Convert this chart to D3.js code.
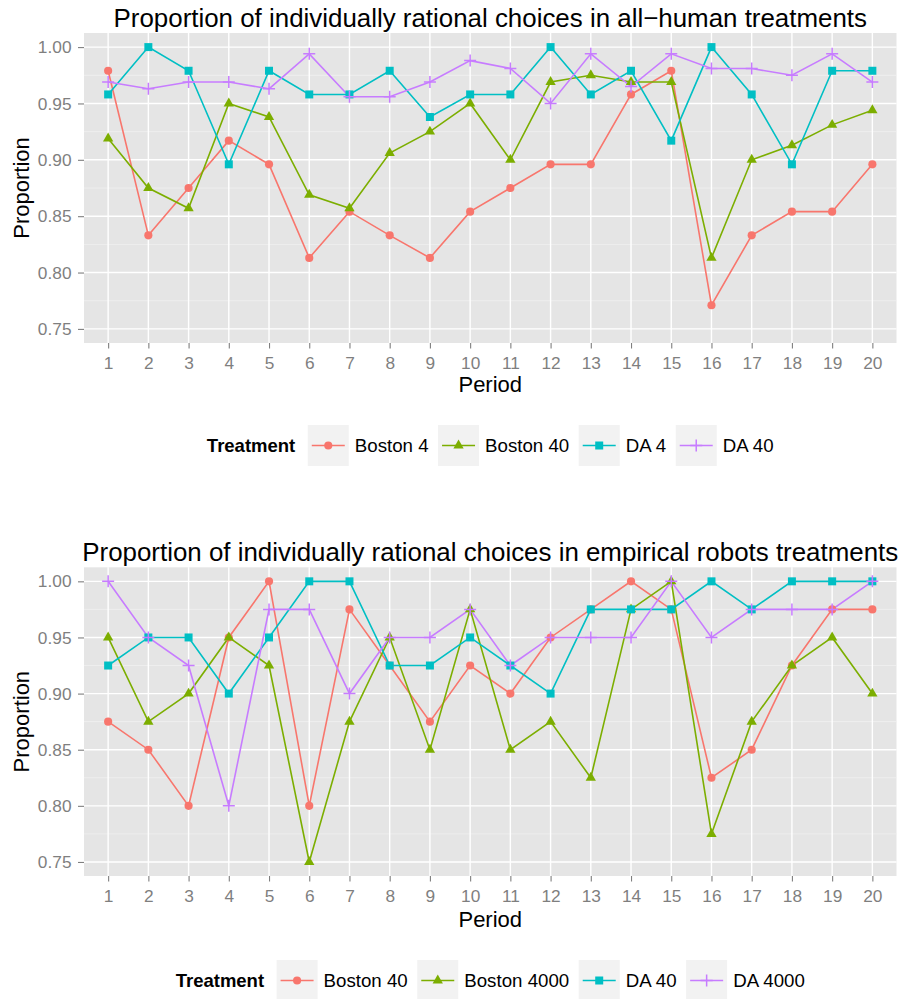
<!DOCTYPE html>
<html>
<head>
<meta charset="utf-8">
<script src="https://cdn.jsdelivr.net/npm/d3@7/dist/d3.min.js"></script>
<style>
body { margin: 0; background: #fff; }
text { font-family: "Liberation Sans", Arial, Helvetica, sans-serif; }
</style>
</head>
<body>
<svg id="chart" width="899" height="999"></svg>
<script>
// data
var periods = [1, 2, 3, 4, 5, 6, 7, 8, 9, 10, 11, 12, 13, 14, 15, 16, 17, 18, 19, 20];
var yTicks = [0.75, 0.80, 0.85, 0.90, 0.95, 1.00];
var yMinor = [0.775, 0.825, 0.875, 0.925, 0.975];

var humanTitle = "Proportion of individually rational choices in all\u2212human treatments";
var humanLabels = ["Boston 4", "Boston 40", "DA 4", "DA 40"];
var humanBoston4 = [0.979, 0.833, 0.875, 0.917, 0.896, 0.813, 0.854, 0.833, 0.813, 0.854,
                    0.875, 0.896, 0.896, 0.958, 0.979, 0.771, 0.833, 0.854, 0.854, 0.896];
var humanBoston40 = [0.919, 0.875, 0.857, 0.950, 0.938, 0.869, 0.857, 0.906, 0.925, 0.950,
                     0.900, 0.969, 0.975, 0.969, 0.969, 0.813, 0.900, 0.913, 0.931, 0.944];
var humanDA4 = [0.958, 1.000, 0.979, 0.896, 0.979, 0.958, 0.958, 0.979, 0.938, 0.958,
                0.958, 1.000, 0.958, 0.979, 0.917, 1.000, 0.958, 0.896, 0.979, 0.979];
var humanDA40 = [0.969, 0.963, 0.969, 0.969, 0.963, 0.994, 0.956, 0.956, 0.969, 0.988,
                 0.981, 0.950, 0.994, 0.965, 0.994, 0.981, 0.981, 0.975, 0.994, 0.969];

var robotTitle = "Proportion of individually rational choices in empirical robots treatments";
var robotLabels = ["Boston 40", "Boston 4000", "DA 40", "DA 4000"];
var robotBoston40 = [0.875, 0.850, 0.800, 0.950, 1.000, 0.800, 0.975, 0.925, 0.875, 0.925,
                     0.900, 0.950, 0.975, 1.000, 0.975, 0.825, 0.850, 0.925, 0.975, 0.975];
var robotBoston4000 = [0.950, 0.875, 0.900, 0.950, 0.925, 0.750, 0.875, 0.950, 0.850, 0.975,
                       0.850, 0.875, 0.825, 0.975, 1.000, 0.775, 0.875, 0.925, 0.950, 0.900];
var robotDA40 = [0.925, 0.950, 0.950, 0.900, 0.950, 1.000, 1.000, 0.925, 0.925, 0.950,
                 0.925, 0.900, 0.975, 0.975, 0.975, 1.000, 0.975, 1.000, 1.000, 1.000];
var robotDA4000 = [1.000, 0.950, 0.925, 0.800, 0.975, 0.975, 0.900, 0.950, 0.950, 0.975,
                   0.925, 0.950, 0.950, 0.950, 1.000, 0.950, 0.975, 0.975, 0.975, 1.000];

var colors = ["#F8766D", "#7CAE00", "#00BFC4", "#C77CFF"];
var shapes = ["circle", "triangle", "square", "plus"];

var panelLeft = 84;
var panelRight = 896.5;

var svg = d3.select("#chart");

function markerPath(shape)
{
    if (shape == "circle") return d3.symbol().type(d3.symbolCircle).size(52)();
    if (shape == "triangle") return d3.symbol().type(d3.symbolTriangle).size(46)();
    if (shape == "square") return d3.symbol().type(d3.symbolSquare).size(64)();
    return "M-6,0H6M0,-6V6";
}

function drawMarker(g, shape, color)
{
    var p = g.append("path").attr("d", markerPath(shape));
    if (shape == "plus") {
        p.attr("fill", "none").attr("stroke", color).attr("stroke-width", 1.5);
    } else {
        p.attr("fill", color);
    }
    return p;
}

function drawPlot(cfg)
{
    var xScale = d3.scalePoint().domain(periods).range([panelLeft, panelRight]).padding(0.6);
    var yScale = d3.scaleLinear().domain([0.7375, 1.0125]).range([cfg.bottom, cfg.top]);

    var g = svg.append("g");

    // panel background
    g.append("rect")
        .attr("x", panelLeft).attr("y", cfg.top)
        .attr("width", panelRight - panelLeft).attr("height", cfg.bottom - cfg.top)
        .attr("fill", "#E5E5E5");

    g.selectAll("line.minor").data(yMinor).enter().append("line")
        .attr("class", "minor")
        .attr("x1", panelLeft).attr("x2", panelRight)
        .attr("y1", (d) => yScale(d)).attr("y2", (d) => yScale(d))
        .attr("stroke", "#F2F2F2").attr("stroke-width", 0.7);

    g.selectAll("line.hmajor").data(yTicks).enter().append("line")
        .attr("class", "hmajor")
        .attr("x1", panelLeft).attr("x2", panelRight)
        .attr("y1", (d) => yScale(d)).attr("y2", (d) => yScale(d))
        .attr("stroke", "#FFFFFF").attr("stroke-width", 1.4);

    g.selectAll("line.vmajor").data(periods).enter().append("line")
        .attr("class", "vmajor")
        .attr("x1", (d) => xScale(d)).attr("x2", (d) => xScale(d))
        .attr("y1", cfg.top).attr("y2", cfg.bottom)
        .attr("stroke", "#FFFFFF").attr("stroke-width", 1.4);

    // axes
    var yAxis = d3.axisLeft(yScale).tickValues(yTicks).tickSize(6).tickPadding(6.5)
        .tickFormat(d3.format(".2f"));
    var yg = g.append("g").attr("transform", "translate(" + panelLeft + ",0)").call(yAxis);

    var xAxis = d3.axisBottom(xScale).tickSize(5.5).tickPadding(8);
    var xg = g.append("g").attr("transform", "translate(0," + cfg.bottom + ")").call(xAxis);

    [yg, xg].forEach(function(a) {
        a.select(".domain").remove();
        a.selectAll(".tick line").attr("stroke", "#7F7F7F").attr("stroke-width", 1.1);
        a.selectAll(".tick text").attr("fill", "#7F7F7F").style("font-size", "17.3px")
            .style("font-family", "'Liberation Sans', Arial, Helvetica, sans-serif");
    });

    // lines first, then points
    var line = d3.line()
        .x((d, i) => xScale(periods[i]))
        .y((d) => yScale(d));

    cfg.series.forEach(function(s, k) {
        g.append("path")
            .datum(s)
            .attr("d", line)
            .attr("fill", "none")
            .attr("stroke", colors[k])
            .attr("stroke-width", 1.6);
    });

    cfg.series.forEach(function(s, k) {
        s.forEach(function(v, i) {
            var m = g.append("g")
                .attr("transform", "translate(" + xScale(periods[i]) + "," + yScale(v) + ")");
            drawMarker(m, shapes[k], colors[k]);
        });
    });

    // titles
    var mid = (panelLeft + panelRight) / 2;
    g.append("text")
        .attr("x", mid).attr("y", cfg.top - 6)
        .attr("text-anchor", "middle")
        .style("font-size", "25.9px")
        .attr("fill", "#000")
        .text(cfg.title);

    g.append("text")
        .attr("x", mid).attr("y", cfg.bottom + cfg.xTitleGap)
        .attr("text-anchor", "middle")
        .style("font-size", "22px")
        .text("Period");

    g.append("text")
        .attr("transform", "translate(29," + ((cfg.top + cfg.bottom) / 2) + ") rotate(-90)")
        .attr("text-anchor", "middle")
        .style("font-size", "22px")
        .text("Proportion");

    // legend
    var leg = g.append("g");
    var cy = cfg.legendY;
    var x = 0;
    var title = leg.append("text")
        .attr("x", x).attr("y", cy + 6.7)
        .style("font-size", "18.5px").style("font-weight", "bold")
        .text("Treatment");
    x += title.node().getComputedTextLength() + 12.5;

    cfg.labels.forEach(function(lab, k) {
        leg.append("rect")
            .attr("x", x).attr("y", cy - 20.5)
            .attr("width", 41).attr("height", 41)
            .attr("fill", "#F2F2F2");
        leg.append("line")
            .attr("x1", x + 4).attr("x2", x + 37)
            .attr("y1", cy).attr("y2", cy)
            .attr("stroke", colors[k]).attr("stroke-width", 1.6);
        var m = leg.append("g").attr("transform", "translate(" + (x + 20.5) + "," + cy + ")");
        drawMarker(m, shapes[k], colors[k]);
        x += 41 + 6;
        var t = leg.append("text")
            .attr("x", x).attr("y", cy + 6.7)
            .style("font-size", "18.7px")
            .text(lab);
        x += t.node().getComputedTextLength() + 9.5;
    });
    var legW = x - 9.5;
    leg.attr("transform", "translate(" + (mid - legW / 2) + ",0)");
}

drawPlot({
    top: 33, bottom: 343, title: humanTitle, xTitleGap: 48.5, legendY: 445.5,
    labels: humanLabels,
    series: [humanBoston4, humanBoston40, humanDA4, humanDA40]
});

drawPlot({
    top: 567.3, bottom: 876, title: robotTitle, xTitleGap: 50.5, legendY: 980.5,
    labels: robotLabels,
    series: [robotBoston40, robotBoston4000, robotDA40, robotDA4000]
});
</script>
</body>
</html>
